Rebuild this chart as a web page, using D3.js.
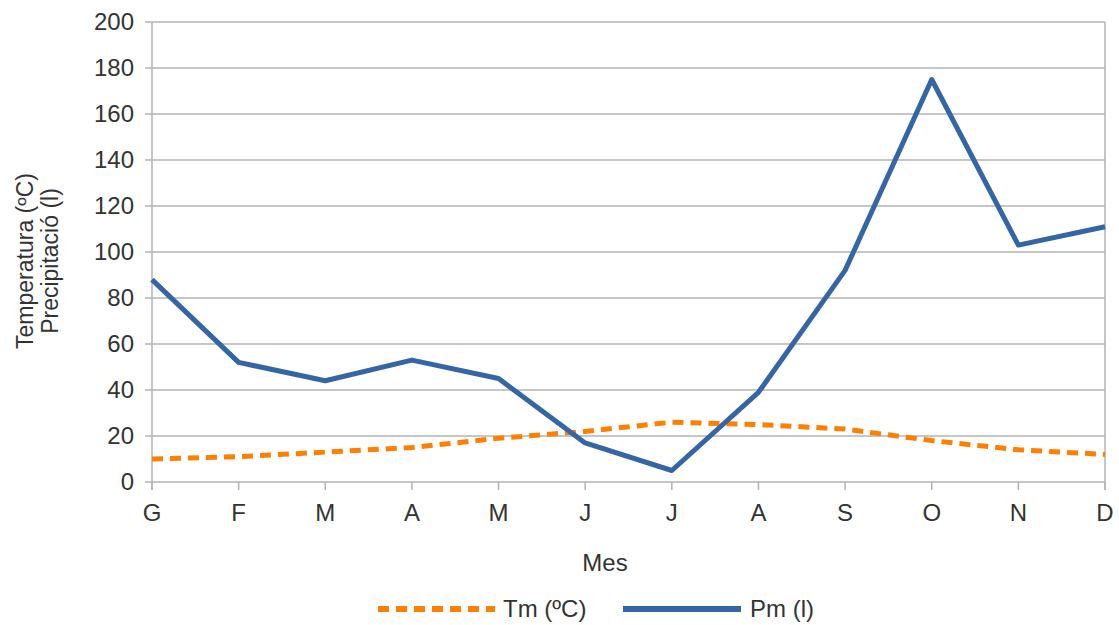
<!DOCTYPE html>
<html><head><meta charset="utf-8">
<script src="https://cdn.jsdelivr.net/npm/d3@7"></script>
<style>body{margin:0;background:#fff;}text{font-family:"Liberation Sans",Arial,sans-serif;fill:#333;}</style>
</head><body>
<svg id="c" width="1119" height="625"></svg>
<script>
const months = ["G","F","M","A","M","J","J","A","S","O","N","D"];
const tm = [10,11,13,15,19,22,26,25,23,18,14,12];
const pm = [88,52,44,53,45,17,5,39,92,175,103,111];
const yTicks = [0,20,40,60,80,100,120,140,160,180,200];
const seriesNames = ["Tm (ºC)","Pm (l)"];

const svg = d3.select("#c");
const L=152,R=1105,T=22,B=482;
const x = d3.scalePoint().domain(d3.range(months.length)).range([L,R]);
const y = d3.scaleLinear().domain([0,200]).range([B,T]);

// gridlines
svg.append("g").selectAll("line").data(yTicks).join("line")
  .attr("x1",L-7).attr("x2",R).attr("y1",d=>y(d)).attr("y2",d=>y(d))
  .attr("stroke","#b3b3b3").attr("stroke-width",1.5);
// left axis and right border
svg.append("line").attr("x1",L).attr("x2",L).attr("y1",T).attr("y2",B+8).attr("stroke","#b3b3b3").attr("stroke-width",1.5);
svg.append("line").attr("x1",R).attr("x2",R).attr("y1",T).attr("y2",B+8).attr("stroke","#b3b3b3").attr("stroke-width",1.5);
// x ticks
svg.append("g").selectAll("line").data(d3.range(months.length)).join("line")
  .attr("x1",d=>x(d)).attr("x2",d=>x(d)).attr("y1",B).attr("y2",B+8)
  .attr("stroke","#b3b3b3").attr("stroke-width",1.5);
// y labels
svg.append("g").selectAll("text").data(yTicks).join("text")
  .attr("x",134).attr("y",d=>y(d)).attr("dy","0.35em").attr("text-anchor","end")
  .attr("font-size",24).text(d=>d);
// x labels
svg.append("g").selectAll("text").data(months).join("text")
  .attr("x",(d,i)=>x(i)).attr("y",513).attr("dy","0.35em").attr("text-anchor","middle")
  .attr("font-size",24).text(d=>d);
// axis titles
svg.append("text").attr("x",605).attr("y",563).attr("dy","0.35em").attr("text-anchor","middle").attr("font-size",24).text("Mes");
const yt = svg.append("text").attr("transform","translate(25,261) rotate(-90)").attr("text-anchor","middle").attr("font-size",23);
yt.append("tspan").attr("x",0).attr("dy","0.35em").text("Temperatura (ºC)");
yt.append("tspan").attr("x",0).attr("dy","1.08em").text("Precipitació (l)");

const line = d3.line().x((d,i)=>x(i)).y(d=>y(d));
svg.append("path").datum(tm).attr("d",line).attr("fill","none")
  .attr("stroke","#ff8000").attr("stroke-width",5).attr("stroke-dasharray","11,7");
svg.append("path").datum(pm).attr("d",line).attr("fill","none")
  .attr("stroke","#3465a4").attr("stroke-width",5).attr("stroke-linejoin","round");

// legend
const lg = svg.append("g");
lg.append("line").attr("x1",378).attr("x2",495).attr("y1",609).attr("y2",609)
  .attr("stroke","#ff8000").attr("stroke-width",6).attr("stroke-dasharray","11,7");
lg.append("text").attr("x",503).attr("y",609).attr("dy","0.35em").attr("font-size",24).text(seriesNames[0]);
lg.append("line").attr("x1",623).attr("x2",741).attr("y1",609).attr("y2",609)
  .attr("stroke","#3465a4").attr("stroke-width",6);
lg.append("text").attr("x",750).attr("y",609).attr("dy","0.35em").attr("font-size",24).text(seriesNames[1]);
</script>
</body></html>
